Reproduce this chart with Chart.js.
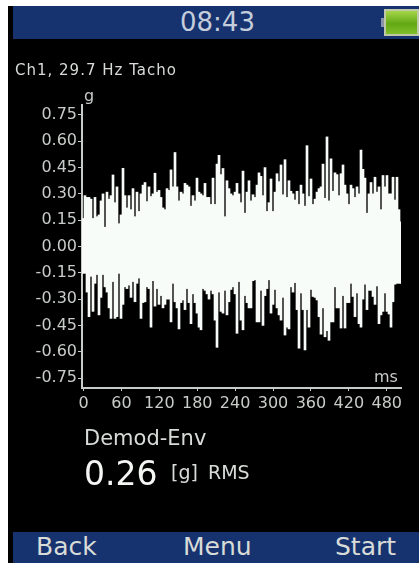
<!DOCTYPE html>
<html>
<head>
<meta charset="utf-8">
<title>Demod-Env</title>
<script src="https://cdn.jsdelivr.net/npm/chart.js@4"></script>
<style>
html, body { margin: 0; padding: 0; background: #fff; overflow: hidden; }
#page { position: absolute; left: 0; top: 0; width: 419px; height: 563px; overflow: hidden; filter: blur(0.4px); }
#screen { position: absolute; left: 8px; top: 6px; width: 411px; height: 557px; background: #000; }
.bar { position: absolute; left: 13px; width: 406px; background: #17336f; }
.txt { position: absolute; font-family: "DejaVu Sans", sans-serif; color: #d8dcd8; white-space: nowrap; line-height: 1; }
#battery { position: absolute; left: 384px; top: 9px; width: 31px; height: 23px; border: 2px solid #bfc9a8; background: linear-gradient(#a6d64a, #62a814 55%, #7fbf2a); }
#nub { position: absolute; left: 381px; top: 18px; width: 3px; height: 9px; background: #8a94a8; }
</style>
</head>
<body>
<div id="page">
<div id="screen"></div>
<canvas id="chart" width="419" height="563" style="position:absolute;left:0;top:0"></canvas>
<div class="bar" style="top:6px;height:33px"></div>
<div class="bar" style="top:532px;height:31px"></div>
<div id="nub"></div>
<div id="battery"></div>
<div class="txt" style="left:180px;top:9px;font-size:26px;color:#c4cddc">08:43</div>
<div class="txt" style="left:15px;top:63px;font-size:15px;letter-spacing:1px">Ch1, 29.7 Hz Tacho</div>
<div class="txt" style="left:84px;top:428px;font-size:21px">Demod-Env</div>
<div class="txt" style="left:84px;top:457px;font-size:33px;color:#f4f6f4">0.26</div>
<div class="txt" style="left:171px;top:463px;font-size:19px">[g]</div>
<div class="txt" style="left:208px;top:463px;font-size:19px">RMS</div>
<div class="txt" style="left:36px;top:534px;font-size:25px">Back</div>
<div class="txt" style="left:183px;top:534px;font-size:25px">Menu</div>
<div class="txt" style="left:335px;top:534px;font-size:25px">Start</div>
</div>
<script>
var yTicks = [0.75, 0.6, 0.45, 0.3, 0.15, 0, -0.15, -0.3, -0.45, -0.6, -0.75];
var xTicks = [0, 60, 120, 180, 240, 300, 360, 420, 480];

var upper = [
  .16,.29,.28,.28,.27,.16,.28,.17,.18,.26,.30,.11,.31,.27,.29,.408,
  .25,.34,.13,.18,.446,.29,.22,.29,.21,.33,.17,.31,.20,.30,.35,.365,
  .256,.34,.285,.30,.418,.31,.32,.28,.22,.21,.33,.32,.437,.34,.536,.34,
  .26,.31,.30,.36,.35,.34,.23,.29,.26,.39,.31,.30,.29,.36,.28,.28,
  .24,.39,.24,.47,.52,.41,.445,.17,.375,.33,.30,.29,.31,.36,.30,.25,
  .43,.19,.31,.375,.26,.295,.28,.35,.42,.40,.29,.45,.20,.25,.385,.20,
  .31,.415,.37,.465,.295,.495,.28,.375,.315,.30,.265,.315,.24,.35,.30,.23,
  .575,.285,.385,.24,.27,.31,.33,.34,.47,.275,.625,.26,.50,.315,.42,.41,
  .29,.415,.465,.35,.30,.24,.35,.33,.28,.34,.30,.55,.44,.39,.19,.30,
  .365,.30,.395,.31,.34,.21,.405,.34,.405,.30,.30,.395,.265,.395,.21,.14
];
var lower = [
  -.153,-.153,-.26,-.40,-.17,-.37,-.21,-.16,-.39,-.29,-.16,-.23,-.26,-.35,-.41,-.20,
  -.41,-.40,-.153,-.41,-.33,-.23,-.24,-.22,-.29,-.20,-.315,-.21,-.18,-.41,-.32,-.315,
  -.23,-.24,-.46,-.195,-.34,-.24,-.33,-.28,-.35,-.33,-.30,-.30,-.43,-.21,-.315,-.35,
  -.47,-.32,-.305,-.36,-.24,-.32,-.44,-.27,-.32,-.38,-.46,-.475,-.24,-.25,-.27,-.30,
  -.25,-.27,-.42,-.575,-.26,-.37,-.38,-.25,-.39,-.315,-.245,-.23,-.27,-.495,-.20,-.42,
  -.475,-.28,-.32,-.35,-.35,-.195,-.19,-.43,-.43,-.25,-.45,-.28,-.24,-.19,-.38,-.33,
  -.245,-.35,-.39,-.42,-.29,-.505,-.46,-.47,-.23,-.26,-.206,-.36,-.58,-.265,-.36,-.59,
  -.36,-.46,-.245,-.285,-.29,-.305,-.40,-.50,-.35,-.515,-.48,-.535,-.43,-.43,-.23,-.35,
  -.35,-.465,-.28,-.465,-.32,-.32,-.21,-.285,-.40,-.265,-.44,-.46,-.30,-.215,-.36,-.25,
  -.25,-.285,-.33,-.225,-.44,-.39,-.37,-.265,-.37,-.385,-.46,-.315,-.215,-.21,-.21,-.21
];

// axis limits so one sample lands on two screen pixels
var xMin = -2.4, xMax = 502.6;
var sampleMs = 2 * (xMax - xMin) / 319;

var envelope = upper.map(function (hi, i) {
  return { x: xMin + sampleMs * (i + 0.5), y: [lower[i], hi] };
});

var axisColor = '#c8ccc8';

var axisLabels = {
  id: 'axisLabels',
  afterDraw: function (chart) {
    var ctx = chart.ctx;
    ctx.save();
    ctx.fillStyle = axisColor;
    ctx.font = '16px "DejaVu Sans"';
    ctx.textBaseline = 'alphabetic';
    ctx.fillText('g', 84, 101);
    ctx.fillText('ms', 374, 382);
    ctx.restore();
  }
};

new Chart(document.getElementById('chart'), {
  type: 'bar',
  data: {
    datasets: [{
      data: envelope,
      backgroundColor: '#f7fcf9',
      borderWidth: 0,
      barPercentage: 1,
      categoryPercentage: 1
    }]
  },
  plugins: [axisLabels],
  options: {
    responsive: false,
    animation: false,
    devicePixelRatio: 1,
    layout: { padding: { left: 0, top: 105, right: 18, bottom: 145 } },
    plugins: { legend: { display: false }, tooltip: { enabled: false } },
    scales: {
      x: {
        type: 'linear',
        min: xMin,
        max: xMax,
        offset: false,
        afterBuildTicks: function (scale) {
          scale.ticks = xTicks.map(function (v) { return { value: v }; });
        },
        afterFit: function (scale) { scale.height = 30; },
        border: { color: axisColor, width: 2 },
        grid: { drawOnChartArea: false, offset: false, color: axisColor, tickLength: 3 },
        ticks: {
          autoSkip: false, maxRotation: 0, color: axisColor, padding: 3,
          font: { family: '"DejaVu Sans"', size: 16 }
        }
      },
      y: {
        min: -0.807,
        max: 0.807,
        afterBuildTicks: function (scale) {
          scale.ticks = yTicks.map(function (v) { return { value: v }; });
        },
        afterFit: function (scale) { scale.width = 82; },
        border: { color: axisColor, width: 2 },
        grid: { drawOnChartArea: false, color: axisColor, tickLength: 4 },
        ticks: {
          autoSkip: false, color: axisColor, padding: 1,
          font: { family: '"DejaVu Sans"', size: 16 },
          callback: function (v) { return v.toFixed(2); }
        }
      }
    }
  }
});
</script>
</body>
</html>
